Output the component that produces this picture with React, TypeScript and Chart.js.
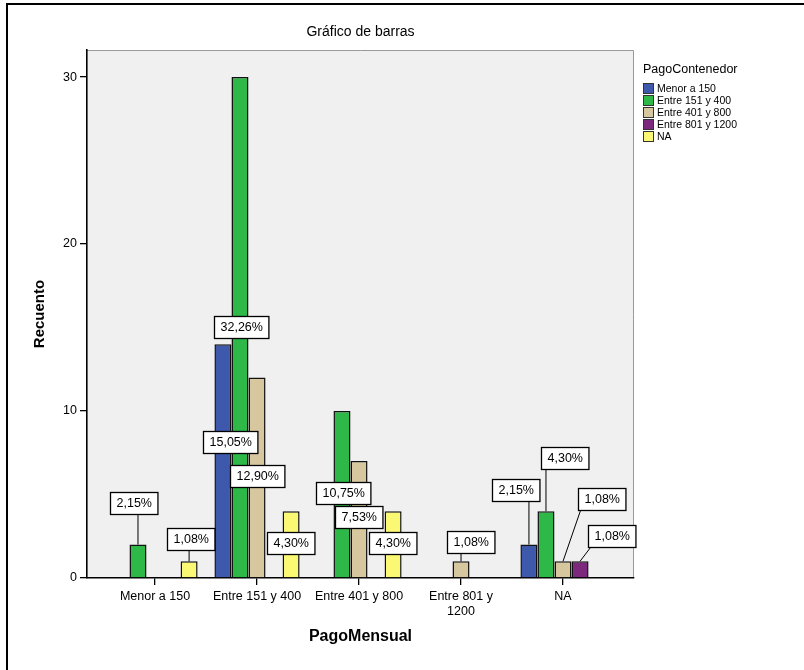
import { useEffect, useRef } from "react";
import { Chart, registerables } from "chart.js";

Chart.register(...registerables);

// ---------- data ----------
const categories = ["Menor a 150", "Entre 151 y 400", "Entre 401 y 800", "Entre 801 y 1200", "NA"];
const xTickLabels: (string | string[])[] = [
  "Menor a 150",
  "Entre 151 y 400",
  "Entre 401 y 800",
  ["Entre 801 y", "1200"],
  "NA",
];
const seriesNames = ["Menor a 150", "Entre 151 y 400", "Entre 401 y 800", "Entre 801 y 1200", "NA"];
const menorA150 = [0, 14, 0, 0, 2];
const entre151y400 = [2, 30, 10, 0, 4];
const entre401y800 = [0, 12, 7, 1, 1];
const entre801y1200 = [0, 0, 0, 0, 1];
const naValues = [1, 4, 4, 0, 0];
const yTicks = [0, 10, 20, 30];

const chartTitle = "Gráfico de barras";
const xTitle = "PagoMensual";
const yTitle = "Recuento";
const legendTitle = "PagoContenedor";

// ---------- styles ----------
const seriesColors = ["#3e58ac", "#2eb848", "#d6c79e", "#7c287d", "#fbf873"];
const FONT = "'Liberation Sans', Arial, sans-serif";

// label box placement: [series, category, dx, dy] relative to bar top centre
const labelPlacement: [number, number, number, number][] = [
  [1, 0, -4, -42],
  [4, 0, 2, -22],
  [1, 1, 1, 250],
  [0, 1, 7, 98],
  [2, 1, 0, 98],
  [4, 1, 0, 32],
  [1, 2, 1, 82],
  [2, 2, 0, 56],
  [4, 2, 0, 32],
  [2, 3, 10, -19],
  [0, 4, -13, -55],
  [1, 4, 19, -53],
  [2, 4, 39, -62],
  [3, 4, 32, -25],
];

const allSeries = [menorA150, entre151y400, entre401y800, entre801y1200, naValues];
const total = allSeries.reduce((s, arr) => s + arr.reduce((a, b) => a + b, 0), 0);

const fmtPct = (v: number) => ((v / total) * 100).toFixed(2).replace(".", ",") + "%";

const backgroundPlugin = {
  id: "plotBackground",
  beforeDraw(chart: any) {
    const { ctx, chartArea: a } = chart;
    ctx.save();
    ctx.fillStyle = "#f0f0f0";
    ctx.fillRect(a.left, a.top, a.right - a.left, a.bottom - a.top);
    ctx.strokeStyle = "#9a9a9a";
    ctx.lineWidth = 1;
    ctx.beginPath();
    ctx.moveTo(a.left, a.top + 0.5);
    ctx.lineTo(a.right - 0.5, a.top + 0.5);
    ctx.lineTo(a.right - 0.5, a.bottom);
    ctx.stroke();
    // outer frame (left + top)
    ctx.strokeStyle = "#000";
    ctx.lineWidth = 2;
    ctx.beginPath();
    ctx.moveTo(7, chart.height);
    ctx.lineTo(7, 4);
    ctx.lineTo(chart.width, 4);
    ctx.stroke();
    ctx.restore();
  },
};

const labelPlugin = {
  id: "pctLabels",
  afterDatasetsDraw(chart: any) {
    const { ctx } = chart;
    ctx.save();
    ctx.font = `12.5px ${FONT}`;
    ctx.textAlign = "center";
    ctx.textBaseline = "middle";
    labelPlacement.forEach(([s, c, dx, dy]) => {
      const v = allSeries[s][c];
      if (!v) return;
      const el = chart.getDatasetMeta(s).data[c];
      if (!el) return;
      const text = fmtPct(v);
      const w = ctx.measureText(text).width + 12;
      const h = 22;
      const cx = el.x + dx;
      const cy = el.y + dy;
      const l = Math.round(cx - w / 2) + 0.5;
      const t = Math.round(cy - h / 2) + 0.5;
      if (t + h < el.y) {
        const lx = Math.min(Math.max(el.x, l + 2), l + w - 2);
        ctx.strokeStyle = "#000";
        ctx.lineWidth = 1;
        ctx.beginPath();
        ctx.moveTo(el.x, el.y);
        ctx.lineTo(lx, t + h);
        ctx.stroke();
      }
      ctx.fillStyle = "#fff";
      ctx.fillRect(l, t, w, h);
      ctx.strokeStyle = "#000";
      ctx.lineWidth = 1.3;
      ctx.strokeRect(l, t, w, h);
      ctx.fillStyle = "#000";
      ctx.fillText(text, l + w / 2, t + h / 2 + 0.5);
    });
    ctx.restore();
  },
};

const legendPlugin = {
  id: "customLegend",
  afterDraw(chart: any) {
    const { ctx } = chart;
    const x0 = 643;
    ctx.save();
    ctx.fillStyle = "#000";
    ctx.textBaseline = "middle";
    ctx.textAlign = "left";
    ctx.font = `12.5px ${FONT}`;
    ctx.fillText(legendTitle, x0, 70);
    ctx.font = `10.5px ${FONT}`;
    seriesNames.forEach((name, i) => {
      const y = 83 + i * 12;
      ctx.fillStyle = seriesColors[i];
      ctx.fillRect(x0, y, 11, 11);
      ctx.strokeStyle = "#333";
      ctx.lineWidth = 1;
      ctx.strokeRect(x0 + 0.5, y + 0.5, 10, 10);
      ctx.fillStyle = "#000";
      ctx.fillText(name, x0 + 14, y + 6);
    });
    ctx.restore();
  },
};

export default function App() {
  const ref = useRef<HTMLCanvasElement>(null);
  useEffect(() => {
    if (!ref.current) return;
    Chart.defaults.font.family = FONT;
    Chart.defaults.color = "#000";
    const chart = new Chart(ref.current, {
      type: "bar",
      data: {
        datasets: allSeries.map((vals, si) => ({
          label: seriesNames[si],
          data: vals.map((v, i) => ({ x: i, y: v > 0 ? v : null })),
          backgroundColor: seriesColors[si],
          borderColor: "#111",
          borderWidth: 1.5,
          categoryPercentage: 0.835,
          barPercentage: 1,
        })) as any,
      },
      options: {
        animation: false,
        responsive: false,
        layout: { padding: { left: 14, right: 170, top: 0, bottom: 0 } },
        plugins: {
          legend: { display: false },
          tooltip: { enabled: false },
          title: {
            display: true,
            text: chartTitle,
            fullSize: false,
            color: "#000",
            font: { size: 14, weight: "normal", family: FONT },
            padding: { top: 23.6, bottom: 9.6 },
          },
        },
        scales: {
          x: {
            type: "linear",
            bounds: "data",
            offset: false,
            min: -0.667,
            max: 4.696,
            afterBuildTicks: (s: any) => {
              s.ticks = categories.map((_, i) => ({ value: i }));
            },
            afterFit: (s: any) => {
              s.height = 92;
            },
            ticks: {
              autoSkip: false,
              maxRotation: 0,
              minRotation: 0,
              padding: 4,
              color: "#000",
              font: { size: 12.5, family: FONT },
              callback: (v: any) => xTickLabels[Math.round(Number(v))] as any,
            },
            grid: { offset: false, drawOnChartArea: false, drawTicks: true, tickLength: 7, tickColor: "#000", lineWidth: 1.3 },
            border: { display: true, color: "#000", width: 1.6 },
            title: {
              display: true,
              text: xTitle,
              color: "#000",
              font: { size: 16, weight: "bold", family: FONT },
              padding: { top: 0, bottom: 23.4 },
            },
          },
          y: {
            min: 0,
            max: 31.62,
            afterBuildTicks: (s: any) => {
              s.ticks = yTicks.map((v) => ({ value: v }));
            },
            afterFit: (s: any) => {
              s.width = 73;
            },
            ticks: {
              padding: 3,
              color: "#000",
              font: { size: 12.5, family: FONT },
            },
            grid: { drawOnChartArea: false, drawTicks: true, tickLength: 7, tickColor: "#000", lineWidth: 1.3 },
            border: { display: true, color: "#000", width: 1.6 },
            title: {
              display: true,
              text: yTitle,
              color: "#000",
              font: { size: 15, weight: "bold", family: FONT },
              padding: { top: 16.4, bottom: 0 },
            },
          },
        },
      } as any,
      plugins: [backgroundPlugin, labelPlugin, legendPlugin],
    });
    return () => chart.destroy();
  }, []);
  return (
    <div style={{ position: "absolute", left: 0, top: 0, width: 804, height: 670, background: "#fff" }}>
      <canvas ref={ref} width={804} height={670} style={{ display: "block" }} />
    </div>
  );
}
